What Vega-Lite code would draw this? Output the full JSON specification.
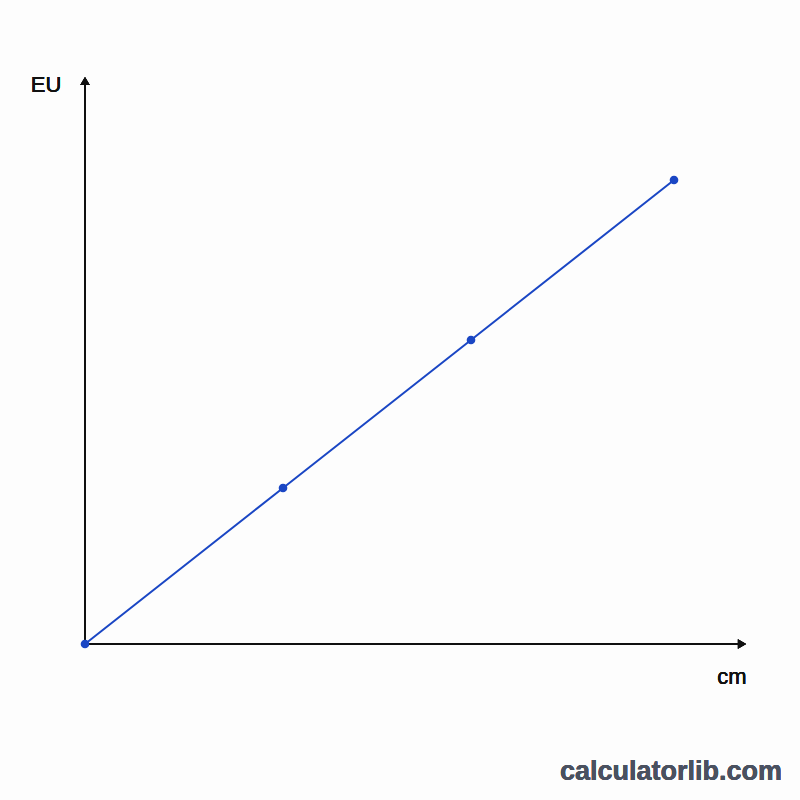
{
  "$schema": "https://vega.github.io/schema/vega-lite/v6.json",
  "width": 800,
  "height": 800,
  "autosize": "none",
  "padding": 0,
  "background": "#fdfdfd",
  "config": {"view": {"stroke": null}, "font": "Liberation Sans"},
  "data": {
    "values": [
      {"cm": 0, "EU": 0},
      {"cm": 1.98, "EU": 1.56},
      {"cm": 3.86, "EU": 3.04},
      {"cm": 5.89, "EU": 4.64}
    ]
  },
  "layer": [
    {
      "mark": {"type": "rule", "color": "#111111", "strokeWidth": 1.6},
      "encoding": {
        "x": {"datum": 0, "type": "quantitative", "scale": {"domain": [-0.85, 7.15], "nice": false, "zero": false}, "axis": null},
        "x2": {"datum": 6.55},
        "y": {"datum": 0, "type": "quantitative", "scale": {"domain": [-1.56, 6.44], "nice": false, "zero": false}, "axis": null}
      }
    },
    {
      "mark": {"type": "rule", "color": "#111111", "strokeWidth": 1.6},
      "encoding": {
        "x": {"datum": 0, "type": "quantitative"},
        "y": {"datum": 0, "type": "quantitative"},
        "y2": {"datum": 5.62}
      }
    },
    {
      "mark": {"type": "point", "shape": "triangle-right", "filled": true, "color": "#111111", "size": 90, "opacity": 1},
      "encoding": {
        "x": {"datum": 6.57, "type": "quantitative"},
        "y": {"datum": 0, "type": "quantitative"}
      }
    },
    {
      "mark": {"type": "point", "shape": "triangle-up", "filled": true, "color": "#111111", "size": 90, "opacity": 1},
      "encoding": {
        "x": {"datum": 0, "type": "quantitative"},
        "y": {"datum": 5.63, "type": "quantitative"}
      }
    },
    {
      "mark": {"type": "line", "color": "#1a46c4", "strokeWidth": 2},
      "encoding": {
        "x": {"field": "cm", "type": "quantitative"},
        "y": {"field": "EU", "type": "quantitative"}
      }
    },
    {
      "mark": {"type": "circle", "color": "#1a46c4", "size": 75, "opacity": 1},
      "encoding": {
        "x": {"field": "cm", "type": "quantitative"},
        "y": {"field": "EU", "type": "quantitative"}
      }
    },
    {
      "mark": {"type": "text", "text": "EU", "fontSize": 22, "color": "#111111", "align": "center", "baseline": "middle"},
      "encoding": {
        "x": {"datum": -0.39, "type": "quantitative"},
        "y": {"datum": 5.59, "type": "quantitative"}
      }
    },
    {
      "mark": {"type": "text", "text": "cm", "fontSize": 22, "color": "#111111", "align": "center", "baseline": "middle"},
      "encoding": {
        "x": {"datum": 6.47, "type": "quantitative"},
        "y": {"datum": -0.33, "type": "quantitative"}
      }
    },
    {
      "mark": {"type": "text", "text": "calculatorlib.com", "fontSize": 27, "fontWeight": "bold", "color": "#4a5160", "align": "right", "baseline": "middle"},
      "encoding": {
        "x": {"datum": 6.97, "type": "quantitative"},
        "y": {"datum": -1.28, "type": "quantitative"}
      }
    }
  ]
}
